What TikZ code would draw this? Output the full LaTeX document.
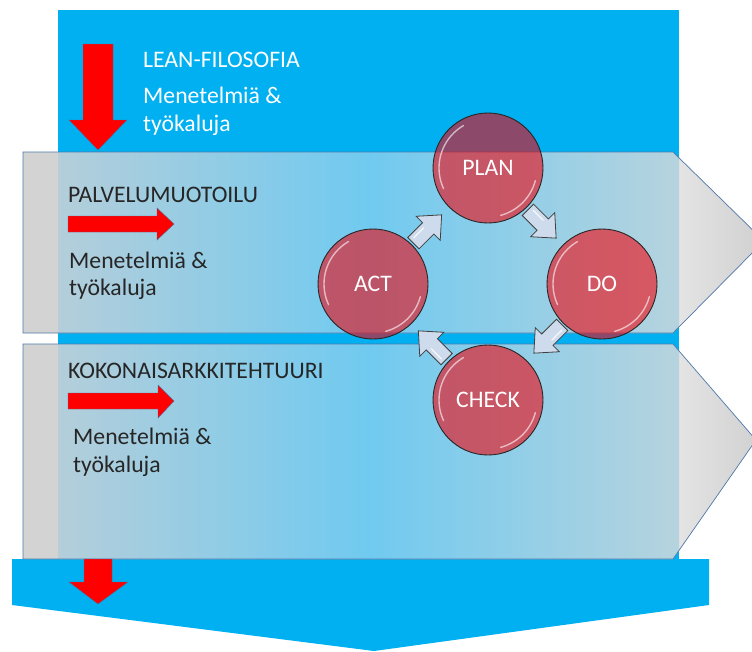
\documentclass[tikz,border=0pt]{standalone}
\usepackage{fontspec}
\setmainfont{Carlito}
\usetikzlibrary{calc}

\definecolor{leanblue}{RGB}{0,176,240}
\definecolor{bandgray}{RGB}{211,211,211}
\definecolor{bandedge}{RGB}{79,121,170}
\definecolor{bandL}{RGB}{180,206,218}
\definecolor{bandM}{RGB}{112,202,240}
\definecolor{bandR}{RGB}{182,211,222}
\definecolor{tipL}{RGB}{228,228,228}
\definecolor{tipR}{RGB}{207,207,207}
\definecolor{pdcared}{RGB}{242,0,8}
\definecolor{cyclefill}{RGB}{206,219,236}
\definecolor{darktext}{RGB}{38,38,38}
\definecolor{arrowred}{RGB}{255,0,0}
\definecolor{arrowedge}{RGB}{74,110,160}

\begin{document}
\begin{tikzpicture}[x=1pt,y=-1pt,
  every node/.style={inner sep=0pt, font=\fontsize{23.7}{28}\selectfont},
  lighttext/.style={text=white, anchor=base west},
  darklabel/.style={text=darktext, anchor=base west},
  phase/.style={circle, minimum size=110pt, fill=pdcared, fill opacity=0.58,
    text opacity=1, text=white, draw=black!85, draw opacity=1, line width=0.9pt},
  redarrow/.style={fill=arrowred, draw=arrowedge, line width=0.4pt},
  bandline/.style={draw=bandedge, line width=0.7pt},
  bandshade/.style={left color=bandL, right color=bandR, middle color=bandM},
  gloss/.style={white, opacity=0.6, line width=1.4pt, line cap=round},
  cyclearrow/.pic={
    \draw[fill=cyclefill, draw=black!75, line width=0.8pt, line join=miter]
      (-20,-8) -- (1,-8) -- (1,-17) -- (20,0) -- (1,17) -- (1,8) -- (-20,8) -- cycle;
    \draw[white, opacity=0.8, line width=1.3pt, line cap=round] (-16,-3.5) -- (-2,-3.5);
  }
]
\useasboundingbox (0,0) rectangle (752,651);
\clip (0,0) rectangle (752,651);

% blue column and the chevron at its foot
\fill[leanblue] (58,10) rectangle (679,559);
\fill[leanblue] (12,559) -- (709,559) -- (709,605) -- (374,651) -- (12,605) -- cycle;

% first band: PALVELUMUOTOILU
\fill[bandgray] (23,152) -- (673,152) -- (764,241) -- (673,333) -- (23,333) -- cycle;
\begin{scope}
  \clip (23,152) -- (673,152) -- (764,241) -- (673,333) -- (23,333) -- cycle;
  \shade[left color=tipL, right color=tipR] (679,152) rectangle (766,333);
  \shade[bandshade] (58,152) rectangle (679,333);
\end{scope}
\draw[bandline] (23,152) -- (673,152) -- (764,241) -- (673,333) -- (23,333) -- cycle;

% second band: KOKONAISARKKITEHTUURI
\fill[bandgray] (23,344) -- (673,344) -- (756,440) -- (673,559) -- (23,559) -- cycle;
\begin{scope}
  \clip (23,344) -- (673,344) -- (756,440) -- (673,559) -- (23,559) -- cycle;
  \shade[left color=tipL, right color=tipR] (679,344) rectangle (766,559);
  \shade[bandshade] (58,344) rectangle (679,559);
\end{scope}
\draw[bandline] (23,344) -- (673,344) -- (756,440) -- (673,559) -- (23,559) -- cycle;

% red arrows
\draw[redarrow] (83,44) -- (113,44) -- (113,120) -- (127,120) -- (98,150) -- (69,120) -- (83,120) -- cycle;
\draw[redarrow] (84,559) -- (112,559) -- (112,582) -- (128,582) -- (98,604) -- (69,582) -- (84,582) -- cycle;
\draw[redarrow] (68,216) -- (157,216) -- (157,208) -- (174,224) -- (157,240) -- (157,232) -- (68,232) -- cycle;
\draw[redarrow] (68,393) -- (158,393) -- (158,385) -- (174,401) -- (158,418) -- (158,409) -- (68,409) -- cycle;

% texts
\node[lighttext] (lean) at (143,67) {LEAN-FILOSOFIA};
\node[lighttext] (leanm1) at (143,103) {Menetelmiä \&};
\node[lighttext] (leanm2) at (143,131) {työkaluja};
\node[darklabel] (palv) at (68,202) {PALVELUMUOTOILU};
\node[darklabel] (palvm1) at (69,268) {Menetelmiä \&};
\node[darklabel] (palvm2) at (69,295) {työkaluja};
\node[darklabel] (koko) at (68,378) {KOKONAISARKKITEHTUURI};
\node[darklabel] (kokom1) at (73,444) {Menetelmiä \&};
\node[darklabel] (kokom2) at (73,472) {työkaluja};

% PDCA cycle
\node[phase] (plan) at (488,168) {PLAN};
\node[phase] (do) at (602,284) {DO};
\node[phase] (check) at (488,400) {CHECK};
\node[phase] (act) at (373,284) {ACT};

\foreach \c in {plan,do,check,act} {
  \draw[gloss, shift={(\c.center)}] plot[domain=120:205, samples=25] ({49*cos(\x)},{-49*sin(\x)});
  \draw[gloss, shift={(\c.center)}] plot[domain=-75:-15, samples=25] ({49*cos(\x)},{-49*sin(\x)});
}

\path ($(act)!0.5!(plan)+(-3,3)$) pic[rotate=45] {cyclearrow};
\path ($(plan)!0.5!(do)+(-3,-2)$) pic[rotate=-45] {cyclearrow};
\path ($(do)!0.5!(check)+(3,-3)$) pic[rotate=-135] {cyclearrow};
\path ($(check)!0.5!(act)+(2,3)$) pic[rotate=135] {cyclearrow};
\end{tikzpicture}
\end{document}
